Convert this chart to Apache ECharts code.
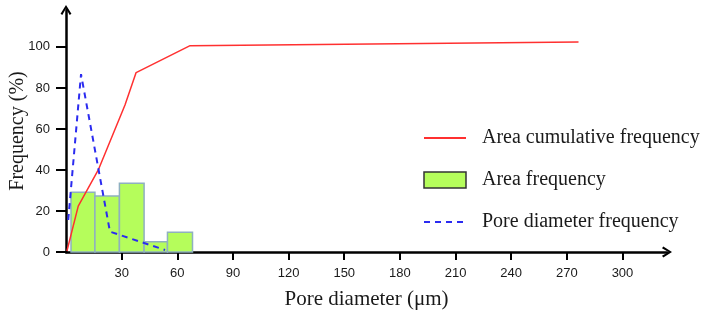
<!DOCTYPE html>
<html>
<head>
<meta charset="utf-8">
<script src="https://cdn.jsdelivr.net/npm/echarts@6/dist/echarts.min.js"></script>
<style>
  html, body { margin: 0; padding: 0; background: #fff; }
  #main { width: 706px; height: 311px; }
</style>
</head>
<body>
<div id="main"></div>
<script>
// tick labels
var xTicks = [30, 60, 90, 120, 150, 180, 210, 240, 270, 300];
var yTicks = [0, 20, 40, 60, 80, 100];

// Area cumulative frequency (red line)
var cumX = [0.5, 6.6, 17.4, 31.8, 37.8, 66.9, 276.3];
var cumY = [0.5, 22.4, 40, 71.7, 87.5, 100.6, 102.4];

// Area frequency (histogram bins)
var binStart = [2.7, 15.6, 28.8, 42.1, 54.7];
var binEnd = [15.6, 28.8, 42.1, 54.7, 68.2];
var areaFreq = [29.1, 27.3, 33.5, 5.0, 9.6];

// Pore diameter frequency (blue dashed)
var poreX = [1.2, 8.1, 23.7, 53.4];
var poreY = [15.6, 86.7, 9.9, 1];

var serif = 'Liberation Serif';
var sans = 'Liberation Sans';
// open chevron arrow head, tip pointing up
var arrowPath = 'path://M5,0 L10,8 L8.4,9.2 L5,3.2 L1.6,9.2 L0,8 Z';

var chart = echarts.init(document.getElementById('main'));

var option = {
    animation: false,
    grid: {
        left: 66,
        right: 39,
        top: 10,
        bottom: 59,
        containLabel: false,
        outerBoundsMode: 'none'
    },
    legend: {
        orient: 'vertical',
        left: 418,
        top: 123,
        itemWidth: 42,
        itemHeight: 16,
        itemGap: 22,
        textStyle: {
            fontFamily: serif,
            fontSize: 20,
            color: '#1a1a1a',
            padding: [0, 0, 0, 11]
        },
        data: [
            {name: 'Area cumulative frequency', itemStyle: {opacity: 0}},
            {name: 'Area frequency', icon: 'rect', itemStyle: {color: '#b5fd5b', borderColor: '#333', borderWidth: 1.5}},
            {name: 'Pore diameter frequency', itemStyle: {opacity: 0}}
        ]
    },
    xAxis: {
        type: 'value',
        min: 0,
        max: 324,
        interval: 30,
        name: 'Pore diameter (μm)',
        nameLocation: 'middle',
        nameGap: 37,
        nameMoveOverlap: false,
        nameTextStyle: {fontFamily: serif, fontSize: 21, color: '#1a1a1a'},
        splitLine: {show: false},
        axisLine: {
            lineStyle: {color: '#000', width: 2.5},
            symbol: ['none', arrowPath],
            symbolSize: [12, 10]
        },
        axisTick: {
            customValues: xTicks,
            length: 8,
            lineStyle: {color: '#000', width: 2}
        },
        axisLabel: {
            customValues: xTicks,
            margin: 15,
            fontFamily: sans,
            fontSize: 13,
            color: '#1a1a1a'
        }
    },
    yAxis: {
        type: 'value',
        min: 0,
        max: 118,
        interval: 20,
        name: 'Frequency (%)',
        nameLocation: 'middle',
        nameGap: 38,
        nameMoveOverlap: false,
        nameTextStyle: {fontFamily: serif, fontSize: 20, color: '#1a1a1a'},
        splitLine: {show: false},
        axisLine: {
            show: true,
            lineStyle: {color: '#000', width: 2.5},
            symbol: ['none', arrowPath],
            symbolSize: [12, 10]
        },
        axisTick: {
            show: true,
            customValues: yTicks,
            length: 10,
            lineStyle: {color: '#000', width: 2}
        },
        axisLabel: {
            customValues: yTicks,
            margin: 16,
            fontFamily: sans,
            fontSize: 13,
            color: '#1a1a1a'
        }
    },
    series: [
        {
            name: 'Area frequency',
            type: 'custom',
            z: 1,
            itemStyle: {color: '#b5fd5b', borderColor: '#8fb0c0', borderWidth: 1.5},
            encode: {x: [0, 1], y: 2},
            data: binStart.map(function (s, i) { return [s, binEnd[i], areaFreq[i]]; }),
            renderItem: function (params, api) {
                var p0 = api.coord([api.value(0), api.value(2)]);
                var p1 = api.coord([api.value(1), 0]);
                return {
                    type: 'rect',
                    shape: {x: p0[0], y: p0[1], width: p1[0] - p0[0], height: p1[1] - p0[1]},
                    style: {fill: '#b5fd5b', stroke: '#8fb0c0', lineWidth: 1.5}
                };
            }
        },
        {
            name: 'Area cumulative frequency',
            type: 'line',
            z: 3,
            symbol: 'none',
            lineStyle: {color: '#ff3030', width: 1.5},
            itemStyle: {color: '#ff3030'},
            data: cumX.map(function (x, i) { return [x, cumY[i]]; })
        },
        {
            name: 'Pore diameter frequency',
            type: 'line',
            z: 4,
            symbol: 'none',
            lineStyle: {color: '#2b2bf0', width: 2, type: [6, 5]},
            itemStyle: {color: '#2b2bf0'},
            data: poreX.map(function (x, i) { return [x, poreY[i]]; })
        }
    ]
};

chart.setOption(option);
</script>
</body>
</html>
